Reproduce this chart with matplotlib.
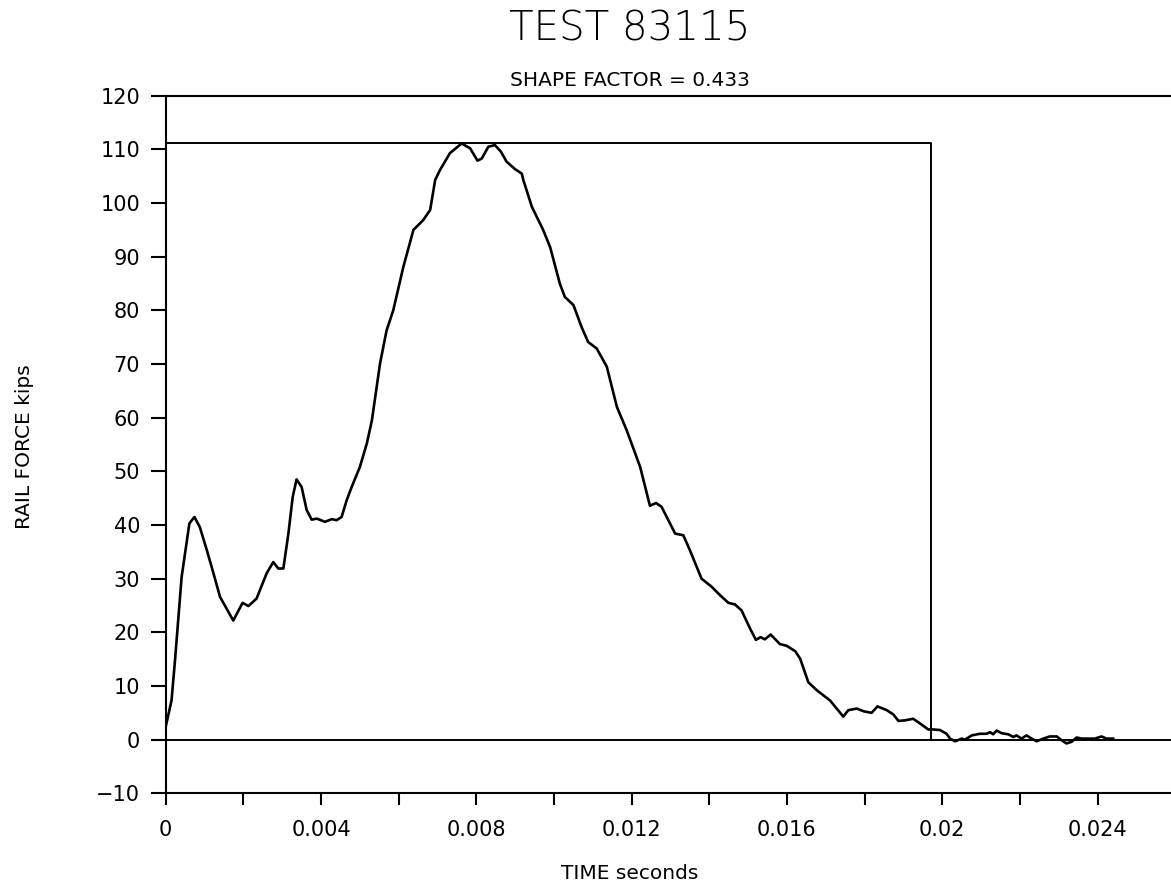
import numpy as np
import matplotlib
matplotlib.use('Agg')
import matplotlib.pyplot as plt
from matplotlib.ticker import MultipleLocator, FuncFormatter

# rail force trace (time in seconds, force in kips)
time_s = [0.0, 0.00015, 0.00024, 0.00041, 0.00061, 0.00074, 0.00088, 0.00106, 0.00123, 0.0014,
          0.00157, 0.00174, 0.00198, 0.00213, 0.00234, 0.0026, 0.00277, 0.0029, 0.00303, 0.00316,
          0.00327, 0.00337, 0.0035, 0.00363, 0.00376, 0.00389, 0.0041, 0.00428, 0.0044, 0.00453,
          0.00466, 0.00479, 0.005, 0.00518, 0.00531, 0.00552, 0.00569, 0.00586, 0.00612, 0.00638,
          0.00663, 0.00681, 0.00694, 0.00706, 0.00732, 0.00762, 0.00784, 0.00803, 0.00814, 0.00831,
          0.00848, 0.00863, 0.00878, 0.009, 0.00917, 0.00921, 0.00943, 0.00972, 0.0099, 0.01015,
          0.01028, 0.0105, 0.01071, 0.01088, 0.0111, 0.01136, 0.01162, 0.01187, 0.01222, 0.01247,
          0.01263, 0.01277, 0.01312, 0.01333, 0.0135, 0.0138, 0.01406, 0.01428, 0.01449, 0.01466,
          0.01483, 0.01505, 0.0152, 0.01532, 0.01543, 0.01558, 0.01582, 0.01599, 0.01621, 0.01634,
          0.01655, 0.01677, 0.01711, 0.01728, 0.01745, 0.01758, 0.0178, 0.01797, 0.01818, 0.01833,
          0.01857, 0.01874, 0.01887, 0.01904, 0.01925, 0.01943, 0.01964, 0.01977, 0.01994, 0.02011,
          0.0202, 0.02033, 0.0205, 0.02058, 0.02076, 0.02097, 0.02114, 0.02123, 0.02131, 0.0214,
          0.02153, 0.0217, 0.02183, 0.02191, 0.02204, 0.02217, 0.0223, 0.02243, 0.0226, 0.02277,
          0.02295, 0.02307, 0.0232, 0.02333, 0.02346, 0.02359, 0.02376, 0.02393, 0.0241, 0.02423,
          0.0244]
force_kips = [2.4, 7.3, 14.8, 30.3, 40.3, 41.5, 39.6, 35.3, 31.0, 26.6,
              24.4, 22.2, 25.5, 24.9, 26.3, 31.0, 33.1, 31.9, 31.9, 38.4,
              45.2, 48.5, 47.1, 42.8, 41.0, 41.2, 40.6, 41.1, 40.9, 41.5,
              44.6, 47.1, 50.8, 55.2, 59.5, 70.1, 76.3, 80.0, 88.1, 95.0,
              96.8, 98.7, 104.3, 106.1, 109.3, 111.1, 110.2, 107.9, 108.3, 110.5,
              110.8, 109.6, 107.7, 106.3, 105.5, 104.3, 99.3, 95.0, 91.8, 85.0,
              82.5, 81.0, 76.9, 74.1, 72.9, 69.5, 62.0, 57.7, 50.8, 43.6,
              44.1, 43.4, 38.4, 38.1, 35.3, 30.0, 28.5, 26.9, 25.5, 25.2,
              24.1, 20.7, 18.6, 19.1, 18.7, 19.6, 17.8, 17.5, 16.5, 15.1,
              10.7, 9.2, 7.3, 5.8, 4.3, 5.5, 5.8, 5.3, 5.0, 6.2,
              5.5, 4.7, 3.5, 3.6, 3.9, 3.0, 1.9, 1.9, 1.8, 1.1,
              0.2, -0.3, 0.2, 0.0, 0.8, 1.1, 1.1, 1.4, 1.0, 1.7,
              1.2, 1.0, 0.5, 0.8, 0.2, 0.8, 0.2, -0.3, 0.2, 0.6,
              0.6, -0.1, -0.7, -0.4, 0.4, 0.2, 0.2, 0.2, 0.6, 0.2,
              0.2]

# equivalent rectangular pulse
pulse_peak = 111.2
pulse_end = 0.0197
shape_factor = 0.433

plt.rcParams['font.family'] = ['DejaVu Sans']

fig = plt.figure(figsize=(11.71, 8.88), dpi=100)
ax = fig.add_axes([0.1415, 0.1066, 0.8585, 0.7856])

ax.plot(time_s, force_kips, color='black', linewidth=1.9, solid_joinstyle='round')
ax.plot([0, pulse_end, pulse_end], [pulse_peak, pulse_peak, 0], color='black', linewidth=1.4)
ax.axhline(0, color='black', linewidth=1.4)

ax.set_xlim(0, 0.02589)
ax.set_ylim(-10, 120)

ax.spines['right'].set_visible(False)
for side in ['left', 'top', 'bottom']:
    ax.spines[side].set_linewidth(1.5)

ax.xaxis.set_major_locator(MultipleLocator(0.004))
ax.xaxis.set_minor_locator(MultipleLocator(0.002))
ax.xaxis.set_major_formatter(FuncFormatter(lambda v, p: '%g' % round(v, 6)))
ax.yaxis.set_major_locator(MultipleLocator(10))

ax.tick_params(axis='x', which='both', direction='out', length=8.5, width=1.5, pad=11, labelsize=15)
ax.tick_params(axis='y', which='major', direction='out', length=10.5, width=1.5, pad=8, labelsize=15)
ax.tick_params(top=False, right=False)

fig.text(0.538, 0.967, 'TEST 83115', ha='center', va='center', fontsize=29, fontweight='light')
fig.text(0.538, 0.9088, 'SHAPE FACTOR = %.3f' % shape_factor, ha='center', va='center', fontsize=14.5)
fig.text(0.538, 0.0158, 'TIME seconds', ha='center', va='center', fontsize=14.5)
fig.text(0.0213, 0.4966, 'RAIL FORCE kips', ha='center', va='center', rotation=90, fontsize=14.5)

plt.savefig('out.png', dpi=100)
